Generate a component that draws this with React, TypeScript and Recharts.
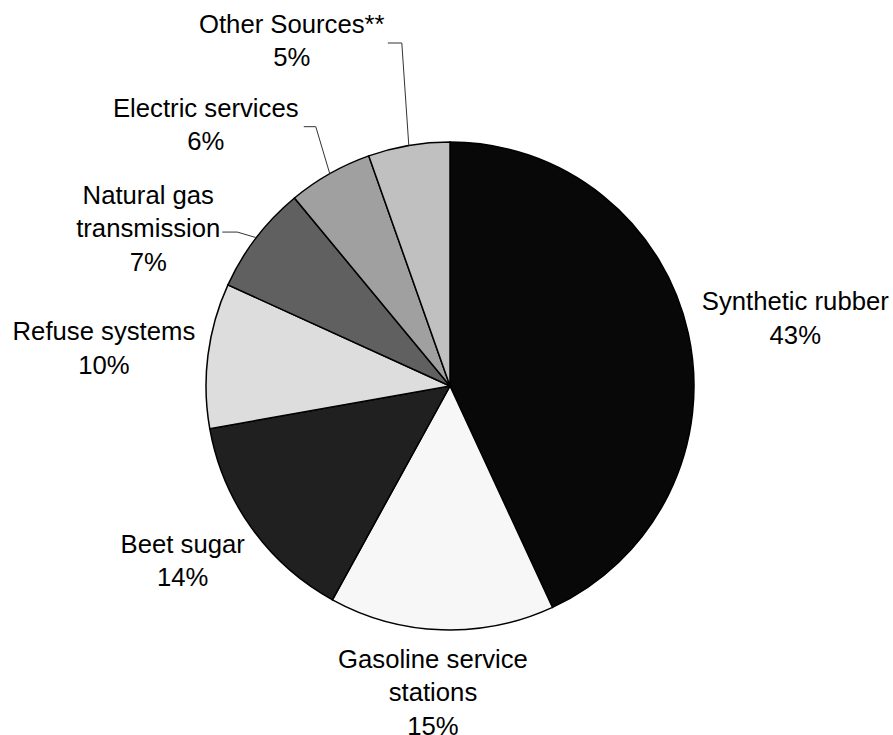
import React from "react";
import { PieChart, Pie, Cell } from "recharts";

const categories = [
  "Synthetic rubber",
  "Gasoline service\nstations",
  "Beet sugar",
  "Refuse systems",
  "Natural gas\ntransmission",
  "Electric services",
  "Other Sources**",
];
const shares = [43.1, 14.9, 14.2, 9.6, 7.2, 5.6, 5.4];
const colors = ["#080808", "#f7f7f7", "#202020", "#dddddd", "#606060", "#a0a0a0", "#c0c0c0"];

// label placement relative to the slice's outer-edge midpoint (style config)
const labelOffsets = [
  { dx: 107, dy: -23.5 },
  { dx: -8.6, dy: 38 },
  { dx: -69, dy: 24.5 },
  { dx: -104, dy: -15.4 },
  { dx: -108, dy: -34 },
  { dx: -124, dy: -57 },
  { dx: -117, dy: -113 },
];
const leaderLines: (null | { ex: number; ey: number; tx: number; ty: number })[] = [
  null,
  null,
  null,
  null,
  { ex: -19, ey: -5.6, tx: -34, ty: -5.6 },
  { ex: -14, ey: -47, tx: -26, ty: -47 },
  { ex: -7, ey: -102.5, tx: -21, ty: -102.5 },
];

const total = shares.reduce((a, b) => a + b, 0);
const data = categories.map((name, i) => ({ name, value: shares[i] }));

const RAD = Math.PI / 180;
const FONT = "'Liberation Sans', Arial, sans-serif";
const LINE_H = 33.5;

const renderLabel = (props: any) => {
  const { cx, cy, midAngle, outerRadius, index } = props;
  const x0 = cx + outerRadius * Math.cos(-midAngle * RAD);
  const y0 = cy + outerRadius * Math.sin(-midAngle * RAD);
  const off = labelOffsets[index];
  const lines = categories[index].split("\n");
  const pct = Math.round((shares[index] / total) * 100) + "%";
  const all = [...lines, pct];
  const ll = leaderLines[index];
  return (
    <g key={`lbl-${index}`}>
      {ll && (
        <polyline
          points={`${x0},${y0} ${x0 + ll.ex},${y0 + ll.ey} ${x0 + ll.tx},${y0 + ll.ty}`}
          fill="none"
          stroke="#333"
          strokeWidth={1}
        />
      )}
      <text
        x={x0 + off.dx}
        y={y0 + off.dy}
        textAnchor="middle"
        fill="#000"
        fontFamily={FONT}
        fontSize={25.7}
      >
        {all.map((t, k) => (
          <tspan key={k} x={x0 + off.dx} dy={k === 0 ? 0 : LINE_H}>
            {t}
          </tspan>
        ))}
      </text>
    </g>
  );
};

export default function App() {
  return (
    <div
      style={{
        position: "absolute",
        left: 0,
        top: 0,
        width: 893,
        height: 735,
        background: "#fff",
        overflow: "hidden",
      }}
    >
      <PieChart width={893} height={735} margin={{ top: 0, right: 0, bottom: 0, left: 0 }}>
        <Pie
          data={data}
          dataKey="value"
          nameKey="name"
          cx={450}
          cy={386}
          outerRadius={244}
          startAngle={90}
          endAngle={-270}
          stroke="#000"
          strokeWidth={1.5}
          label={renderLabel}
          labelLine={false}
          isAnimationActive={false}
        >
          {data.map((d, i) => (
            <Cell key={d.name} fill={colors[i]} />
          ))}
        </Pie>
      </PieChart>
    </div>
  );
}
